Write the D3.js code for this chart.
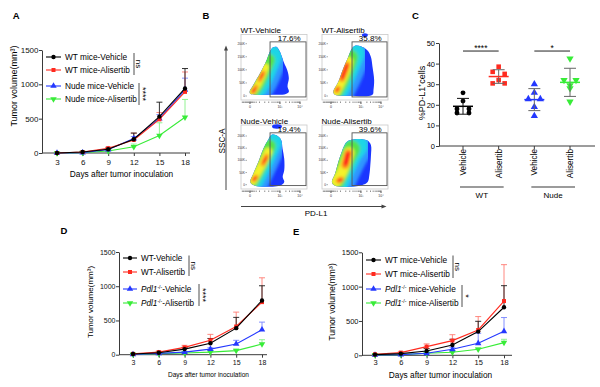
<!DOCTYPE html>
<html><head><meta charset="utf-8">
<script src="https://cdn.jsdelivr.net/npm/d3@7/dist/d3.min.js"></script>
<style>
html,body{margin:0;padding:0;background:#fff;}
svg{display:block;font-family:"Liberation Sans",Arial,Helvetica,sans-serif;}
text{white-space:pre;}
</style></head><body>
<svg id="fig" width="600" height="387"></svg>
<script>
// ================= DATA =================
const days = [3, 6, 9, 12, 15, 18];
const volumeTicks = [0, 500, 1000, 1500];
const xAxisTitle = "Days after tumor inoculation";
const yAxisTitle = "Tumor volume(mm³)";
const panelLetters = ["A", "B", "C", "D", "E"];

// Panel A
const aNames = ["WT mice-Vehicle", "WT mice-Alisertib", "Nude mice-Vehicle", "Nude mice-Alisertib"];
const aWTVehicle = [0, 15, 55, 200, 530, 940];
const aWTAlisertib = [0, 15, 70, 190, 490, 890];
const aNudeVehicle = [0, 5, 50, 210, 500, 920];
const aNudeAlisertib = [0, 5, 30, 90, 255, 520];
const aWTVehicleErr = [0, 5, 15, 90, 210, 290];
const aWTAlisertibErr = [0, 5, 15, 100, 100, 290];
const aNudeVehicleErr = [0, 3, 10, 30, 60, 170];
const aNudeAlisertibErr = [0, 3, 8, 40, 185, 260];
const aSig = ["ns", "****"];

// Panel D
const dNames = ["WT-Vehicle", "WT-Alisertib", "Pdl1-Vehicle", "Pdl1-Alisertib"];
const dWTVehicle = [10, 28, 82, 167, 388, 792];
const dWTAlisertib = [12, 38, 107, 210, 412, 768];
const dPdl1Vehicle = [5, 19, 38, 82, 157, 365];
const dPdl1Alisertib = [5, 15, 25, 38, 60, 155];
const dWTVehicleErr = [5, 10, 25, 70, 157, 215];
const dWTAlisertibErr = [5, 15, 30, 87, 210, 355];
const dPdl1VehicleErr = [3, 5, 10, 20, 53, 111];
const dPdl1AlisertibErr = [2, 4, 6, 10, 20, 64];
const dSig = ["ns", "****"];

// Panel E
const eNames = ["WT mice-Vehicle", "WT mice-Alisertib", "Pdl1 mice-Vehicle", "Pdl1 mice-Alisertib"];
const eWTVehicle = [10, 24, 63, 150, 345, 700];
const eWTAlisertib = [15, 39, 126, 214, 369, 790];
const ePdl1Vehicle = [5, 10, 29, 87, 175, 350];
const ePdl1Alisertib = [5, 10, 29, 44, 87, 185];
const eWTVehicleErr = [3, 8, 35, 83, 150, 314];
const eWTAlisertibErr = [5, 12, 40, 86, 195, 530];
const ePdl1VehicleErr = [2, 5, 10, 30, 145, 200];
const ePdl1AlisertibErr = [2, 4, 8, 15, 20, 48];
const eSig = ["ns", "*"];

// Panel C
const cCategories = ["Vehicle", "Alisertib", "Vehicle", "Alisertib"];
const cGroups = ["WT", "Nude"];
const cWTVehicle = [25.8, 21.8, 18, 18, 16, 16];
const cWTAlisertib = [38.5, 36, 35, 32, 30.4, 30.4];
const cNudeVehicle = [30, 25.9, 22.8, 22.8, 19, 14.6];
const cNudeAlisertib = [42.4, 32, 32, 29.5, 28, 21.5];
const cTicks = [0, 10, 20, 30, 40, 50];
const cSig = ["****", "*"];
const cYTitle = "%PD-L1⁺cells";

// Panel B (flow cytometry pseudo-colour plots)
const flowTitles = ["WT-Vehicle", "WT-Alisertib", "Nude-Vehicle", "Nude-Alisertib"];
const flowPercents = ["17.6%", "35.8%", "19.4%", "39.6%"];
const flowGateLeft = [0.44, 0.455, 0.44, 0.455];   // PD-L1 display units
const flowGateTop = [207, 207, 213, 213];          // SSC-A (K)
const flowYTicks = [0, 50, 100, 150, 200];
const flowYTickLabels = ["0", "50K", "100K", "150K", "200K"];
const flowXMajor = [0.136, 0.59, 0.894];
const flowXMajorLabels = ["0", "10³", "10⁴"];
const flowXMinor = [0.02, 0.04, 0.06, 0.075, 0.09, 0.105, 0.12, 0.15, 0.165, 0.18, 0.2, 0.23, 0.28, 0.36, 0.42, 0.47, 0.5, 0.53, 0.555, 0.575, 0.68, 0.735, 0.775, 0.805, 0.83, 0.85, 0.865, 0.88];
const flowAxisX = "PD-L1";
const flowAxisY = "SSC-A";
// outer population outlines [PD-L1 u, SSC K]
const flowOutlineWTVehicle = [[.13,16.7],[.186,42.4],[.288,87.1],[.389,138],[.439,169.7],[.485,186],[.535,188],[.58,174],[.61,157.1],[.655,125.3],[.70,99.7],[.725,68],[.705,35.9],[.725,16.7],[.68,7.9],[.439,5],[.212,5],[.14,8.5]];
const flowOutlineWTAlisertib = [[.171,16.4],[.247,54.7],[.323,105.9],[.398,150.3],[.45,180],[.5,192],[.595,189],[.69,174],[.74,150.3],[.765,112],[.79,61.2],[.78,22.9],[.765,4.5],[.398,1],[.197,4.5]];
const flowOutlineNudeVehicle = [[.14,11.1],[.186,45.2],[.262,93.2],[.338,147.8],[.414,186],[.465,205],[.535,203],[.605,186],[.63,147.8],[.655,106.8],[.655,59.1],[.632,31.6],[.655,11.1],[.605,-2],[.212,-4.5]];
const flowOutlineNudeAlisertib = [[.15,11.1],[.197,45.2],[.247,93.2],[.298,134.3],[.348,166],[.398,180],[.5,186.5],[.606,186.5],[.695,180],[.742,161.8],[.742,120.7],[.732,79.7],[.717,38.6],[.692,11.1],[.602,-2],[.197,-4.5]];
// density ridges: [level, width (u), points]
const flowCoreWTVehicle = [
  [1,.44,[[.22,14],[.34,60],[.45,125],[.52,170]]],
  [2,.30,[[.19,12],[.30,55],[.40,110],[.47,155]]],
  [3,.19,[[.17,12],[.27,50],[.36,100],[.42,138]]],
  [4,.11,[[.17,14],[.25,42],[.33,85],[.37,110]]],
  [5,.065,[[.18,16],[.23,35]]],[5,.06,[[.28,60],[.34,90]]],
  [6,.045,[[.185,18],[.21,25]]],[6,.04,[[.30,70],[.33,84]]]];
const flowCoreWTAlisertib = [
  [1,.46,[[.24,12],[.36,70],[.47,135],[.54,180]]],
  [2,.33,[[.21,12],[.32,65],[.42,125],[.48,162]]],
  [3,.23,[[.2,14],[.30,60],[.39,115],[.43,148]]],
  [4,.14,[[.21,16],[.29,55],[.37,105],[.40,132]]],
  [5,.07,[[.22,20],[.25,30]]],[5,.09,[[.30,65],[.38,120]]],
  [6,.045,[[.225,22],[.24,26]]],[6,.06,[[.31,72],[.375,115]]]];
const flowCoreNudeVehicle = [
  [1,.42,[[.21,12],[.33,80],[.45,150],[.51,192]]],
  [2,.30,[[.18,12],[.30,75],[.41,140],[.47,178]]],
  [3,.20,[[.17,14],[.28,70],[.38,125],[.43,158]]],
  [4,.12,[[.18,16],[.26,55],[.35,100],[.41,136]]],
  [5,.065,[[.19,20],[.23,32]]],[5,.065,[[.33,85],[.39,118]]],
  [6,.045,[[.20,22],[.22,28]]],[6,.045,[[.35,95],[.38,108]]]];
const flowCoreNudeAlisertib = [
  [1,.50,[[.25,10],[.37,80],[.49,140],[.58,170]]],
  [2,.36,[[.22,10],[.33,75],[.43,130],[.51,160]]],
  [3,.26,[[.21,12],[.31,70],[.40,120],[.45,147]]],
  [4,.16,[[.22,14],[.30,50],[.37,100],[.41,132]]],
  [5,.08,[[.25,16],[.29,22]]],[5,.11,[[.35,80],[.40,130]]],
  [6,.05,[[.26,17],[.28,20]]],[6,.075,[[.36,88],[.39,125]]]];
// small detached events above the populations [u, K, ru, rK]
const flowSpecks = [null, [.65, 233, .045, 7], [.545, 239, .075, 9], null];

// ================= STYLE / LAYOUT =================
const svg = d3.select("#fig");
const defs = svg.append("defs");
const axisColor = "#3a3a3a";
const seriesColors = ["#000000", "#ff2a1f", "#2438ff", "#38ec38"];
const errColors = ["#1a1a1a", "#ff7b72", "#7683ff", "#86f086"];
const flowColors = ["#1a36ff", "#2f95ff", "#1fd6e6", "#55e24a", "#f4f22a", "#ff8c1a", "#ff1f1f"];
const intFmt = d3.format("d");

defs.append("filter").attr("id", "blur").attr("x", "-30%").attr("y", "-30%").attr("width", "160%").attr("height", "160%")
  .append("feGaussianBlur").attr("stdDeviation", 1.5);

const letterPos = [[12.7, 18.5], [202.5, 18.5], [412, 18.5], [60.5, 233.5], [293, 234.5]];
panelLetters.forEach((l, i) => svg.append("text").attr("x", letterPos[i][0]).attr("y", letterPos[i][1])
  .attr("font-size", 9.5).attr("font-weight", "bold").text(l));

function markerPath(i, size) {
  const types = [d3.symbolCircle, d3.symbolSquare, d3.symbolTriangle, d3.symbolTriangle];
  return d3.symbol().type(types[i]).size(size)();
}
function markerRot(i) { return i === 3 ? " rotate(180)" : ""; }

function legendLabel(t, name, size) {
  const m = name.match(/^Pdl1(.*)$/);
  if (m) {
    t.append("tspan").attr("font-style", "italic").text("Pdl1");
    t.append("tspan").attr("font-size", size * 0.62).attr("dy", -size * 0.4).text("-/-");
    t.append("tspan").attr("dy", size * 0.4).text(m[1]);
  } else t.text(name);
}

function drawLineChart(p) {
  const g = svg.append("g");
  const x = d3.scaleLinear().domain([days[0], days[days.length - 1]]).range(p.xr);
  const y = d3.scaleLinear().domain([0, 1500]).range(p.yr);
  const xa = g.append("g").attr("transform", `translate(0,${p.yr[0]})`)
    .call(d3.axisBottom(x).tickValues(days).tickFormat(intFmt).tickSize(3).tickSizeOuter(0).tickPadding(p.xPad));
  xa.select(".domain").remove();
  xa.append("line").attr("x1", p.ax[0]).attr("x2", p.ax[1]).attr("stroke", axisColor);
  const ya = g.append("g").attr("transform", `translate(${p.ax[0]},0)`)
    .call(d3.axisLeft(y).tickValues(volumeTicks).tickFormat(intFmt).tickSize(3).tickSizeOuter(0).tickPadding(0.5));
  [xa, ya].forEach(a => {
    a.attr("font-size", p.tickFont).attr("font-family", null);
    a.selectAll("line,path").attr("stroke", axisColor);
    a.selectAll("text").attr("fill", "#111");
  });
  g.append("text").attr("x", (p.xr[0] + p.xr[1]) / 2 + p.xTitleDx).attr("y", p.xTitleY).attr("text-anchor", "middle")
    .attr("font-size", p.xTitleFont).text(xAxisTitle);
  g.append("text").attr("transform", `translate(${p.yTitleX},${p.yTitleY}) rotate(-90)`).attr("text-anchor", "middle")
    .attr("font-size", p.yTitleFont).text(yAxisTitle);
  const order = [3, 2, 1, 0];
  const line = d3.line().x((d, i) => x(days[i])).y(d => y(d));
  order.forEach(s => {
    const vals = p.series[s], errs = p.errs[s];
    const eg = g.append("g").attr("stroke", errColors[s]).attr("stroke-width", 0.9);
    vals.forEach((v, i) => {
      if (errs[i] <= 0) return;
      eg.append("line").attr("x1", x(days[i])).attr("x2", x(days[i])).attr("y1", y(v)).attr("y2", y(v + errs[i]));
      eg.append("line").attr("x1", x(days[i]) - 3).attr("x2", x(days[i]) + 3).attr("y1", y(v + errs[i])).attr("y2", y(v + errs[i]));
    });
  });
  order.forEach(s => {
    g.append("path").attr("d", line(p.series[s])).attr("fill", "none").attr("stroke", seriesColors[s]).attr("stroke-width", 1.1);
    p.series[s].forEach((v, i) => g.append("path").attr("d", markerPath(s, s === 0 ? 15 : (s === 1 ? 16 : 18)))
      .attr("transform", `translate(${x(days[i])},${y(v)})${markerRot(s)}`).attr("fill", seriesColors[s]));
  });
  p.names.forEach((n, s) => {
    const yy = p.legRows[s];
    g.append("line").attr("x1", p.legLine[0]).attr("x2", p.legLine[1]).attr("y1", yy).attr("y2", yy)
      .attr("stroke", seriesColors[s]).attr("stroke-width", 1.1);
    g.append("path").attr("d", markerPath(s, s === 0 ? 15 : (s === 1 ? 16 : 18))).attr("transform", `translate(${(p.legLine[0] + p.legLine[1]) / 2},${yy})${markerRot(s)}`)
      .attr("fill", seriesColors[s]);
    const t = g.append("text").attr("x", p.legText).attr("y", yy).attr("dy", "0.36em").attr("font-size", p.legFont);
    legendLabel(t, n, p.legFont);
  });
  p.brackets.forEach((b, k) => {
    g.append("line").attr("x1", b[0]).attr("x2", b[0]).attr("y1", b[1]).attr("y2", b[2]).attr("stroke", axisColor).attr("stroke-width", 0.9);
    const isStar = p.sig[k].indexOf("*") >= 0;
    g.append("text").attr("transform", `translate(${b[0] + (isStar ? 0.6 : 1.6)},${(b[1] + b[2]) / 2}) rotate(90)`)
      .attr("text-anchor", "middle").attr("font-size", isStar ? 9 : 8).attr("dy", isStar ? "-0.05em" : "-0.02em")
      .text(p.sig[k]);
  });
}

drawLineChart({
  xr: [57, 185], ax: [42, 190], yr: [153, 50], xPad: 3.5, tickFont: 8,
  xTitleY: 176.5, xTitleFont: 8.3, xTitleDx: 0.5, yTitleX: 17, yTitleY: 86, yTitleFont: 9,
  series: [aWTVehicle, aWTAlisertib, aNudeVehicle, aNudeAlisertib],
  errs: [aWTVehicleErr, aWTAlisertibErr, aNudeVehicleErr, aNudeAlisertibErr],
  names: aNames, legLine: [46, 61], legText: 65, legRows: [57, 70, 86, 99], legFont: 8.3,
  brackets: [[134, 53, 75], [139, 83, 105]], sig: aSig
});
drawLineChart({
  xr: [133, 262], ax: [119, 267], yr: [354.7, 252], xPad: 2.2, tickFont: 7,
  xTitleY: 377, xTitleFont: 6.5, xTitleDx: 11, yTitleX: 92.5, yTitleY: 302, yTitleFont: 8,
  series: [dWTVehicle, dWTAlisertib, dPdl1Vehicle, dPdl1Alisertib],
  errs: [dWTVehicleErr, dWTAlisertibErr, dPdl1VehicleErr, dPdl1AlisertibErr],
  names: dNames, legLine: [123, 137], legText: 141, legRows: [258, 272, 289, 303], legFont: 8.2,
  brackets: [[189, 255.5, 276], [199, 284, 306]], sig: dSig
});
drawLineChart({
  xr: [375, 504], ax: [362, 512], yr: [355.3, 252.3], xPad: 1.6, tickFont: 7.5,
  xTitleY: 377.5, xTitleFont: 8.3, xTitleDx: 1, yTitleX: 334.5, yTitleY: 302, yTitleFont: 8.6,
  series: [eWTVehicle, eWTAlisertib, ePdl1Vehicle, ePdl1Alisertib],
  errs: [eWTVehicleErr, eWTAlisertibErr, ePdl1VehicleErr, ePdl1AlisertibErr],
  names: eNames, legLine: [366, 381], legText: 385, legRows: [260, 274, 289, 303], legFont: 8.3,
  brackets: [[453, 255.5, 278], [462, 285, 307]], sig: eSig
});

// ================= PANEL C =================
(function () {
  const g = svg.append("g");
  const x = d3.scalePoint().domain(d3.range(cCategories.length)).range([463, 570]);
  const y = d3.scaleLinear().domain([0, 50]).range([146, 43]);
  const ya = g.append("g").attr("transform", "translate(439,0)")
    .call(d3.axisLeft(y).tickValues(cTicks).tickFormat(intFmt).tickSize(3).tickSizeOuter(0).tickPadding(1));
  ya.attr("font-size", 7.5).attr("font-family", null);
  ya.selectAll("line,path").attr("stroke", axisColor);
  g.append("line").attr("x1", 439).attr("x2", 595).attr("y1", y(0)).attr("y2", y(0)).attr("stroke", axisColor);
  cCategories.forEach((c, i) => {
    g.append("line").attr("x1", x(i)).attr("x2", x(i)).attr("y1", y(0)).attr("y2", y(0) + 3).attr("stroke", axisColor);
    g.append("text").attr("transform", `translate(${x(i)},${y(0) + 3}) rotate(-90)`).attr("text-anchor", "end")
      .attr("dy", "0.35em").attr("font-size", 8.2).text(c);
  });
  cGroups.forEach((gr, k) => {
    const x0 = x(2 * k) - 3, x1 = x(2 * k + 1) + 5;
    g.append("line").attr("x1", x0).attr("x2", x1).attr("y1", 187).attr("y2", 187).attr("stroke", "#7a7a7a").attr("stroke-width", 1.3);
    g.append("text").attr("x", (x0 + x1) / 2).attr("y", 197.5).attr("text-anchor", "middle").attr("font-size", 8).text(gr);
  });
  g.append("text").attr("transform", `translate(425,93) rotate(-90)`).attr("text-anchor", "middle").attr("font-size", 9).text(cYTitle);
  const groups = [cWTVehicle, cWTAlisertib, cNudeVehicle, cNudeAlisertib];
  groups.forEach((vals, i) => {
    const m = d3.mean(vals), sd = d3.deviation(vals);
    const cxp = x(i);
    const sorted = vals.slice();
    const offs = new Array(sorted.length).fill(0);
    for (let k = 0; k < sorted.length - 1; k++) {
      if (offs[k] === 0 && Math.abs(sorted[k] - sorted[k + 1]) < 1.5) { offs[k] = -6; offs[k + 1] = 6; k++; }
    }
    sorted.forEach((v, k) => g.append("path").attr("d", markerPath(i, i === 0 ? 19 : (i === 1 ? 21 : 23)))
      .attr("transform", `translate(${cxp + offs[k]},${y(v)})${markerRot(i)}`).attr("fill", seriesColors[i]));
    const eg = g.append("g").attr("stroke", i === 0 ? "#111" : "#666").attr("stroke-width", 1);
    eg.append("line").attr("x1", cxp).attr("x2", cxp).attr("y1", y(m - sd)).attr("y2", y(m + sd));
    [m - sd, m + sd].forEach(v => eg.append("line").attr("x1", cxp - 6).attr("x2", cxp + 6).attr("y1", y(v)).attr("y2", y(v)));
    g.append("line").attr("x1", cxp - 10).attr("x2", cxp + 10).attr("y1", y(m)).attr("y2", y(m))
      .attr("stroke", seriesColors[i]).attr("stroke-width", 1.5);
  });
  cSig.forEach((s, k) => {
    const yy = y(46.1);
    g.append("line").attr("x1", x(2 * k)).attr("x2", x(2 * k + 1)).attr("y1", yy).attr("y2", yy).attr("stroke", "#222").attr("stroke-width", 1);
    g.append("text").attr("x", (x(2 * k) + x(2 * k + 1)) / 2).attr("y", yy - 0.5).attr("text-anchor", "middle").attr("font-size", 8.5).text(s);
  });
})();

// ================= PANEL B =================
(function () {
  const frames = [
    { x: 241, top: 34.5, bottom: 100, zero: 96, k: 0.2615, titleY: 33.2, tickY: 101.5 },
    { x: 322, top: 34.5, bottom: 100, zero: 96, k: 0.2615, titleY: 33.2, tickY: 101.5 },
    { x: 241, top: 125, bottom: 189, zero: 184.7, k: 0.2435, titleY: 123.7, tickY: 190.5 },
    { x: 322, top: 125, bottom: 189, zero: 184.7, k: 0.2435, titleY: 123.7, tickY: 190.5 }
  ];
  const W = 66;
  const outlines = [flowOutlineWTVehicle, flowOutlineWTAlisertib, flowOutlineNudeVehicle, flowOutlineNudeAlisertib];
  const cores = [flowCoreWTVehicle, flowCoreWTAlisertib, flowCoreNudeVehicle, flowCoreNudeAlisertib];
  frames.forEach((f, i) => {
    const g = svg.append("g");
    const x = d3.scaleLinear().domain([0, 1]).range([f.x, f.x + W]);
    const y = d3.scaleLinear().domain([0, 200]).range([f.zero, f.zero - 200 * f.k]);
    g.append("rect").attr("x", f.x).attr("y", f.top).attr("width", W).attr("height", f.bottom - f.top)
      .attr("fill", "none").attr("stroke", "#c9c9c9").attr("stroke-width", 0.8);
    flowYTicks.forEach((t, k) => {
      g.append("line").attr("x1", f.x + 4.5).attr("x2", f.x + 6).attr("y1", y(t)).attr("y2", y(t)).attr("stroke", "#555").attr("stroke-width", 0.5);
      g.append("text").attr("x", f.x + 4).attr("y", y(t)).attr("dy", "0.35em").attr("text-anchor", "end")
        .attr("font-size", 3.2).attr("fill", "#333").text(flowYTickLabels[k]);
    });
    flowXMinor.forEach(u => g.append("line").attr("x1", x(u)).attr("x2", x(u)).attr("y1", f.tickY).attr("y2", f.tickY + 1.5)
      .attr("stroke", "#444").attr("stroke-width", 0.6));
    flowXMajor.forEach((u, k) => {
      g.append("line").attr("x1", x(u)).attr("x2", x(u)).attr("y1", f.tickY).attr("y2", f.tickY + 2.5).attr("stroke", "#222").attr("stroke-width", 0.8);
      g.append("text").attr("x", x(u)).attr("y", f.tickY + 6.5).attr("text-anchor", "middle").attr("font-size", 3.5).attr("fill", "#333").text(flowXMajorLabels[k]);
    });
    const area = d3.line().x(d => x(d[0])).y(d => y(d[1])).curve(d3.curveCatmullRomClosed.alpha(0.5));
    const cid = "fclip" + i;
    defs.append("clipPath").attr("id", cid).append("path").attr("d", area(outlines[i]));
    g.append("path").attr("d", area(outlines[i])).attr("fill", flowColors[0]);
    if (flowSpecks[i]) {
      const s = flowSpecks[i];
      g.append("ellipse").attr("cx", x(s[0])).attr("cy", y(s[1])).attr("rx", x(s[2]) - x(0)).attr("ry", y(0) - y(s[3])).attr("fill", flowColors[0]);
    }
    const inner = g.append("g").attr("clip-path", `url(#${cid})`).append("g").attr("filter", "url(#blur)");
    const ridge = d3.line().x(d => x(d[0])).y(d => y(d[1])).curve(d3.curveCatmullRom);
    cores[i].forEach(([lvl, w, pts]) => {
      inner.append("path").attr("d", ridge(pts)).attr("fill", "none").attr("stroke", flowColors[lvl])
        .attr("stroke-width", w * W).attr("stroke-linecap", "round").attr("stroke-linejoin", "round");
    });
    const gx0 = x(flowGateLeft[i]), gx1 = x(0.985), gy0 = y(flowGateTop[i]), gy1 = y(-3.6);
    g.append("rect").attr("x", gx0).attr("y", gy0).attr("width", gx1 - gx0).attr("height", gy1 - gy0)
      .attr("fill", "none").attr("stroke", "#555").attr("stroke-width", 0.9);
    g.append("text").attr("x", gx1 - 5.5).attr("y", gy0 - 0.6).attr("text-anchor", "end").attr("font-size", 8).text(flowPercents[i]);
    g.append("text").attr("x", f.x - 0.5).attr("y", f.titleY).attr("font-size", 8).text(flowTitles[i]);
  });
  const ag = svg.append("g").attr("stroke", "#444").attr("stroke-width", 1);
  ag.append("line").attr("x1", 226).attr("x2", 226).attr("y1", 190).attr("y2", 49);
  svg.append("path").attr("d", "M226,45.5 L224,50.5 L228,50.5 Z").attr("fill", "#444");
  ag.append("line").attr("x1", 241).attr("x2", 383).attr("y1", 206.5).attr("y2", 206.5);
  svg.append("path").attr("d", "M386.5,206.5 L381.5,204.5 L381.5,208.5 Z").attr("fill", "#444");
  svg.append("text").attr("transform", "translate(224.5,141) rotate(-90)").attr("text-anchor", "middle").attr("font-size", 8.2).text(flowAxisY);
  svg.append("text").attr("x", 316).attr("y", 216).attr("text-anchor", "middle").attr("font-size", 8).text(flowAxisX);
})();
</script>
</body></html>
